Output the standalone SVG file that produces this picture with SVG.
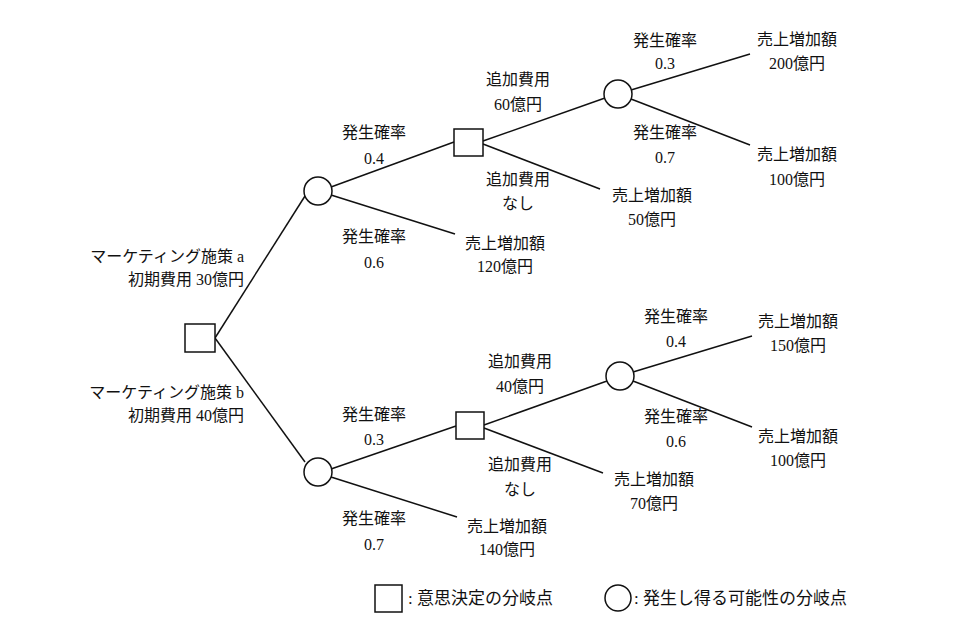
<svg xmlns="http://www.w3.org/2000/svg" width="974" height="620" viewBox="0 0 974 620">
<style>
text{font-family:"Liberation Serif","Noto Sans CJK JP",serif;font-size:16px;fill:#111;text-anchor:middle}
.r{text-anchor:end}
.l{text-anchor:start;font-size:17px}
.n{fill:#fff;stroke:#111;stroke-width:1.5}
.c line{stroke:#111;stroke-width:1.5}
</style>
<rect width="974" height="620" fill="#fff"/>
<g class="c" id="connectors">
<line x1="215" y1="338" x2="305" y2="196"/>
<line x1="215" y1="338" x2="305" y2="462"/>
<line x1="331" y1="187" x2="454" y2="142"/>
<line x1="331" y1="195" x2="455" y2="234"/>
<line x1="483" y1="141" x2="605" y2="98"/>
<line x1="483" y1="144" x2="600" y2="189"/>
<line x1="631" y1="90" x2="750" y2="54"/>
<line x1="631" y1="99" x2="750" y2="145"/>
<line x1="331" y1="469" x2="456" y2="426"/>
<line x1="331" y1="477" x2="457" y2="517"/>
<line x1="484" y1="425" x2="607" y2="381"/>
<line x1="484" y1="428" x2="603" y2="473"/>
<line x1="633" y1="372" x2="752" y2="336"/>
<line x1="633" y1="381" x2="752" y2="427"/>
</g>
<g id="root"><rect class="n" x="185" y="324" width="30" height="28"/></g>
<g id="chanceA"><circle class="n" cx="318" cy="191" r="14"/></g>
<g id="chanceB"><circle class="n" cx="318" cy="472" r="14"/></g>
<g id="decA"><rect class="n" x="454" y="129" width="29" height="27"/></g>
<g id="decB"><rect class="n" x="456" y="412" width="28" height="27"/></g>
<g id="chanceA2"><circle class="n" cx="618" cy="94" r="14"/></g>
<g id="chanceB2"><circle class="n" cx="620" cy="376" r="14"/></g>
<g id="labels">
<text class="r" x="244" y="262">マーケティング施策 a</text>
<text class="r" x="244" y="285">初期費用 30億円</text>
<text class="r" x="244" y="398">マーケティング施策 b</text>
<text class="r" x="244" y="421">初期費用 40億円</text>
<text x="374" y="138">発生確率</text><text x="374" y="164">0.4</text>
<text x="374" y="242">発生確率</text><text x="374" y="268">0.6</text>
<text x="505" y="249">売上増加額</text><text x="505" y="272">120億円</text>
<text x="518" y="85">追加費用</text><text x="518" y="110">60億円</text>
<text x="518" y="185">追加費用</text><text x="518" y="209">なし</text>
<text x="652" y="201">売上増加額</text><text x="652" y="225">50億円</text>
<text x="665" y="46">発生確率</text><text x="665" y="69">0.3</text>
<text x="665" y="138">発生確率</text><text x="665" y="163">0.7</text>
<text x="797" y="45">売上増加額</text><text x="797" y="69">200億円</text>
<text x="797" y="160">売上増加額</text><text x="797" y="185">100億円</text>
<text x="374" y="420">発生確率</text><text x="374" y="445">0.3</text>
<text x="374" y="524">発生確率</text><text x="374" y="550">0.7</text>
<text x="507" y="532">売上増加額</text><text x="507" y="555">140億円</text>
<text x="520" y="367">追加費用</text><text x="520" y="392">40億円</text>
<text x="520" y="470">追加費用</text><text x="520" y="495">なし</text>
<text x="654" y="485">売上増加額</text><text x="654" y="509">70億円</text>
<text x="676" y="322">発生確率</text><text x="676" y="347">0.4</text>
<text x="676" y="422">発生確率</text><text x="676" y="447">0.6</text>
<text x="798" y="327">売上増加額</text><text x="798" y="351">150億円</text>
<text x="798" y="442">売上増加額</text><text x="798" y="466">100億円</text>
</g>
<g id="legend">
<rect class="n" x="375" y="585" width="27" height="27"/>
<text class="l" x="408" y="604">: 意思決定の分岐点</text>
<circle class="n" cx="618" cy="598" r="13"/>
<text class="l" x="634" y="604">: 発生し得る可能性の分岐点</text>
</g>
</svg>
